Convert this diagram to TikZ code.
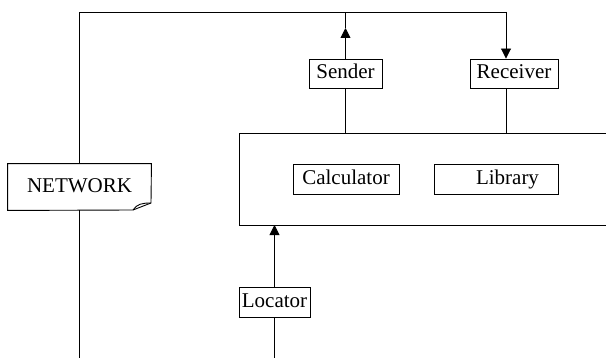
\documentclass[tikz,border=0pt]{standalone}
\usepackage{fontspec}
\setmainfont{Liberation Serif}
\usetikzlibrary{arrows.meta,calc}
\begin{document}
\begin{tikzpicture}[x=1pt,y=-1pt,line width=0.9pt,
  box/.style={draw, inner sep=0pt, text height=14pt, text depth=4pt, font=\fontsize{21}{24}\selectfont},
  tip/.style={-{Triangle[length=10pt,width=10pt]}}]
\useasboundingbox (0,0) rectangle (606,361);
% nodes
\node[box, minimum width=73pt, minimum height=29pt] (sender) at (345.5,73.5) {Sender};
\node[box, minimum width=88pt, minimum height=29pt] (receiver) at (514,73.5) {Receiver};
\node[box, minimum width=106pt, minimum height=30pt] (calc) at (346,179) {Calculator};
\node[box, minimum width=124pt, minimum height=30pt] (library) at (496,179) {\hspace*{23pt}Library};
\node[box, minimum width=71pt, minimum height=30pt] (locator) at (274.5,302) {Locator};
\node[box, draw=none, minimum width=143pt, minimum height=46pt] (network) at (79.5,187) {NETWORK};
% coordinates
\coordinate (nettop) at (79.5,12);
\coordinate (netbot) at (79.5,358);
\coordinate (sendtop) at (345.5,12);
\coordinate (sendtip) at (345.5,28);
\coordinate (recvtop) at (506,12);
\coordinate (coreNW) at (239,133);
\coordinate (coreSW) at (239,225);
\coordinate (coreNE) at (606,133);
\coordinate (coreSE) at (606,225);
\coordinate (locbot) at (274.5,358);
\coordinate (foldA) at (151,203);
\coordinate (foldB) at (133,210);
% core box (open on the right)
\draw (coreNE) -- (coreNW) -- (coreSW) -- (coreSE);
% network note shape
\draw (network.south west) -- (network.north west) -- (network.north east) -- (foldA) -- (foldB) -- cycle;
\draw (foldB) .. controls (137,204) and (142,203) .. (foldA);
% connectors
\draw (network.north) -- (nettop) -- (recvtop);
\draw[tip] (recvtop) -- (recvtop |- receiver.north);
\draw (receiver.south -| recvtop) -- (recvtop |- coreNW);
\draw[tip] (sender.north) -- (sendtip);
\draw (sendtip) -- (sendtop);
\draw (sender.south) -- (sender.south |- coreNW);
\draw[tip] (locator.north) -- (locator.north |- coreSW);
\draw (locator.south) -- (locbot);
\draw (network.south) -- (netbot);
\end{tikzpicture}
\end{document}
